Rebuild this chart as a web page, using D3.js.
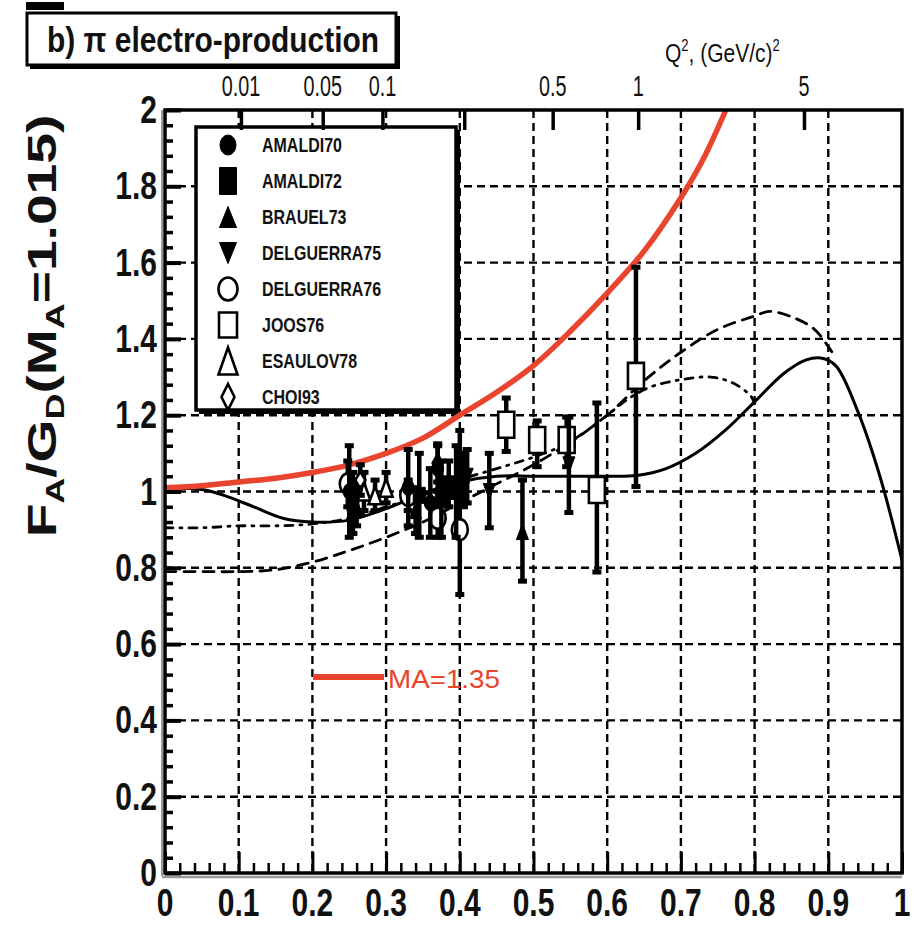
<!DOCTYPE html>
<html>
<head>
<meta charset="utf-8">
<script src="https://cdn.jsdelivr.net/npm/d3@7"></script>
<style>
  body { margin: 0; background: #fff; }
  svg { display: block; }
</style>
</head>
<body>
<svg id="chart" width="917" height="927"></svg>
<script>
// ---- Model curves: F_A / G_D ratio versus x ----
const solidX = [0, 0.05, 0.08, 0.12, 0.16, 0.2, 0.25, 0.3, 0.35, 0.4, 0.45, 0.5, 0.55, 0.6, 0.64, 0.68, 0.72, 0.76, 0.8, 0.84, 0.87, 0.89, 0.91, 0.94, 0.97, 1.0];
const solidY = [1.01, 1.005, 0.99, 0.96, 0.93, 0.92, 0.925, 0.955, 0.995, 1.025, 1.04, 1.04, 1.04, 1.04, 1.042, 1.06, 1.1, 1.16, 1.235, 1.31, 1.345, 1.35, 1.33, 1.21, 1.04, 0.82];

const dashX = [0, 0.05, 0.1, 0.15, 0.2, 0.25, 0.3, 0.35, 0.4, 0.45, 0.5, 0.55, 0.6, 0.65, 0.7, 0.75, 0.8, 0.82, 0.85, 0.88, 0.9, 0.91];
const dashY = [0.79, 0.79, 0.79, 0.795, 0.815, 0.845, 0.88, 0.92, 0.97, 1.02, 1.07, 1.13, 1.2, 1.29, 1.365, 1.425, 1.46, 1.472, 1.458, 1.427, 1.38, 1.35];

const dotX = [0, 0.05, 0.1, 0.15, 0.2, 0.25, 0.3, 0.35, 0.4, 0.45, 0.5, 0.55, 0.6, 0.63, 0.66, 0.7, 0.74, 0.77, 0.795, 0.8];
const dotY = [0.905, 0.905, 0.91, 0.91, 0.915, 0.93, 0.96, 0.99, 1.03, 1.06, 1.09, 1.13, 1.2, 1.245, 1.275, 1.293, 1.3, 1.285, 1.25, 1.23];

// M_A = 1.35 dipole ratio
const redX = [0, 0.05, 0.1, 0.15, 0.2, 0.25, 0.3, 0.35, 0.4, 0.45, 0.5, 0.55, 0.6, 0.65, 0.7, 0.73, 0.761];
const redY = [1.01, 1.015, 1.025, 1.035, 1.05, 1.07, 1.1, 1.14, 1.2, 1.26, 1.33, 1.42, 1.52, 1.63, 1.77, 1.87, 2.0];

// ---- Measurements: [x, value, error down, error up] ----
const amaldi70   = [[0.25, 1.0, 0.12, 0.12], [0.33, 1.01, 0.1, 0.1], [0.36, 0.97, 0.09, 0.09], [0.37, 1.06, 0.06, 0.06], [0.405, 1.03, 0.07, 0.07]];
const amaldi72   = [[0.255, 0.97, 0.08, 0.08], [0.345, 0.99, 0.11, 0.11], [0.375, 0.98, 0.1, 0.1], [0.385, 1.02, 0.06, 0.06], [0.395, 1.0, 0.12, 0.12]];
const brauel73   = [[0.26, 0.96, 0.05, 0.05], [0.34, 0.95, 0.06, 0.06], [0.485, 0.895, 0.13, 0.135]];
const delguerra75 = [[0.44, 1.0, 0.095, 0.1], [0.41, 1.04, 0.07, 0.07], [0.548, 1.07, 0.125, 0.125]];
const delguerra76 = [[0.248, 1.02, 0.06, 0.06], [0.33, 0.99, 0.04, 0.04], [0.37, 0.93, 0.05, 0.05], [0.40, 0.90, 0.17, 0.26]];
const joos76     = [[0.463, 1.175, 0.07, 0.07], [0.505, 1.135, 0.07, 0.05], [0.545, 1.135, 0.07, 0.06], [0.586, 1.004, 0.215, 0.228], [0.639, 1.303, 0.29, 0.285]];
const esaulov78  = [[0.27, 1.0, 0.05, 0.05], [0.285, 0.99, 0.04, 0.04], [0.30, 1.01, 0.04, 0.04]];
const choi93     = [[0.265, 1.03, 0.04, 0.04], [0.37, 1.075, 0.05, 0.05]];

const legendNames = ["AMALDI70", "AMALDI72", "BRAUEL73", "DELGUERRA75", "DELGUERRA76", "JOOS76", "ESAULOV78", "CHOI93"];
const legendShapes = ["circle", "square", "up", "down", "circle", "square", "up", "diamond"];
const legendFilled = [true, true, true, true, false, false, false, false];

// ---- Axis ticks ----
const xMajor = [0, 0.1, 0.2, 0.3, 0.4, 0.5, 0.6, 0.7, 0.8, 0.9, 1];
const xLabels = ["0", "0.1", "0.2", "0.3", "0.4", "0.5", "0.6", "0.7", "0.8", "0.9", "1"];
const yMajor = [0, 0.2, 0.4, 0.6, 0.8, 1, 1.2, 1.4, 1.6, 1.8, 2];
const yLabels = ["0", "0.2", "0.4", "0.6", "0.8", "1", "1.2", "1.4", "1.6", "1.8", "2"];
// Q^2 ticks (GeV/c)^2 and the x value each one sits at
const q2Ticks = [0.01, 0.05, 0.1, 0.2, 0.5, 1, 5];
const q2AtX   = [0.103, 0.214, 0.295, 0.406, 0.526, 0.642, 0.867];
const q2Labels = ["0.01", "0.05", "0.1", "", "0.5", "1", "5"];

const RED = "#e8442e";
const INK = "#111";

const svg = d3.select("#chart");
const L = 165, R = 902, T = 110, B = 873;
const x = d3.scaleLinear().domain([0, 1]).range([L, R]);
const y = d3.scaleLinear().domain([0, 2]).range([B, T]);
const q = d3.scaleLog().domain(q2Ticks).range(q2AtX.map(v => x(v)));

svg.append("defs").append("clipPath").attr("id", "plot")
  .append("rect").attr("x", L).attr("y", T).attr("width", R - L).attr("height", B - T);

// helper: text stretched vertically like the rest of the figure
function sText(g, px, py, str, o) {
  return g.append("text")
    .attr("transform", `translate(${px},${py}) scale(${o.sx || 1},${o.sy || 1})`)
    .attr("text-anchor", o.anchor || "start")
    .attr("font-family", "'Liberation Sans', Arial, sans-serif")
    .attr("font-weight", o.weight || "bold")
    .attr("font-size", o.size)
    .attr("fill", o.fill || INK)
    .text(str);
}

// ---- grid ----
const grid = svg.append("g").attr("stroke", "#000").attr("stroke-width", 2.4).attr("stroke-dasharray", "8,5");
grid.selectAll(".gx").data(xMajor.slice(1, -1)).join("line")
  .attr("x1", d => x(d)).attr("x2", d => x(d)).attr("y1", T).attr("y2", B);
grid.selectAll(".gy").data(yMajor.slice(1, -1)).join("line")
  .attr("x1", L).attr("x2", R).attr("y1", d => y(d)).attr("y2", d => y(d));

// ---- legend box ----
const legend = svg.append("g");
legend.append("rect").attr("x", 199).attr("y", 130).attr("width", 261).attr("height", 284).attr("fill", "#000");
legend.append("rect").attr("x", 196).attr("y", 127).attr("width", 260).attr("height", 283)
  .attr("fill", "#fff").attr("stroke", "#000").attr("stroke-width", 3.5);

// ---- curves ----
const curveG = svg.append("g").attr("clip-path", "url(#plot)").attr("fill", "none");
const lineGen = d3.line().curve(d3.curveCatmullRom.alpha(0.5));
function drawCurve(xs, ys, color, width, dash) {
  curveG.append("path")
    .attr("d", lineGen(xs.map((v, i) => [x(v), y(ys[i])])))
    .attr("stroke", color).attr("stroke-width", width)
    .attr("stroke-dasharray", dash || null)
    .attr("stroke-linecap", "round");
}
drawCurve(dashX, dashY, "#000", 2.8, "11,8");
drawCurve(dotX, dotY, "#000", 2.8, "8,7,2,7");
drawCurve(solidX, solidY, "#000", 3);
drawCurve(redX, redY, RED, 5.5);

// ---- markers ----
function shapePath(shape, w, h) {
  const a = w / 2, b = h / 2;
  switch (shape) {
    case "circle": return `M${-a},0A${a},${b} 0 1,0 ${a},0A${a},${b} 0 1,0 ${-a},0Z`;
    case "square": return `M${-a},${-b}H${a}V${b}H${-a}Z`;
    case "up": return `M0,${-b}L${a},${b}H${-a}Z`;
    case "down": return `M0,${b}L${a},${-b}H${-a}Z`;
    case "diamond": return `M0,${-b}L${a},0L0,${b}L${-a},0Z`;
  }
}
function markerSize(shape, filled) {
  if (shape === "square" && !filled) return [16, 26];
  if (shape === "circle" && !filled) return [16, 21];
  if (shape === "up" && !filled) return [13, 18];
  if (shape === "diamond") return [10, 17];
  return [12, 16];
}

const sets = [amaldi70, amaldi72, brauel73, delguerra75, delguerra76, joos76, esaulov78, choi93];
// open symbols first so the filled ones sit on top in the crowded region
const drawOrder = [6, 7, 4, 5, 0, 1, 2, 3];
const dataG = svg.append("g").attr("clip-path", "url(#plot)");
drawOrder.forEach(si => {
  const pts = sets[si];
  const g = dataG.append("g");
  const shape = legendShapes[si], filled = legendFilled[si];
  const [w, h] = markerSize(shape, filled);
  pts.forEach(p => {
    const cx = x(p[0]), lo = y(p[1] - p[2]), hi = y(p[1] + p[3]);
    g.append("line").attr("x1", cx).attr("x2", cx).attr("y1", lo).attr("y2", hi)
      .attr("stroke", "#000").attr("stroke-width", 4.5);
    [lo, hi].forEach(cy => g.append("rect").attr("x", cx - 4.5).attr("y", cy - 2.5)
      .attr("width", 9).attr("height", 5).attr("fill", "#000"));
    g.append("path").attr("transform", `translate(${cx},${y(p[1])})`)
      .attr("d", shapePath(shape, w, h))
      .attr("fill", filled ? "#000" : "#fff")
      .attr("stroke", "#000").attr("stroke-width", filled ? 1 : 2.6);
  });
});

// ---- legend entries ----
legendNames.forEach((name, i) => {
  const cy = 145 + i * 36;
  const shape = legendShapes[i], filled = legendFilled[i];
  const size = {circle: filled ? [16, 20] : [19, 23], square: filled ? [17, 27] : [18, 25],
                up: filled ? [17, 21] : [19, 27], down: [17, 21], diamond: [13, 26]}[shape];
  legend.append("path").attr("transform", `translate(228,${cy})`)
    .attr("d", shapePath(shape, size[0], size[1]))
    .attr("fill", filled ? "#000" : "#fff").attr("stroke", "#000").attr("stroke-width", filled ? 1 : 2.6);
  sText(legend, 262, cy + 7, name, {size: 16, sy: 1.3});
});

// ---- MA=1.35 label ----
svg.append("line").attr("x1", 313).attr("x2", 384).attr("y1", 677).attr("y2", 677)
  .attr("stroke", RED).attr("stroke-width", 6);
svg.append("text").attr("x", 388).attr("y", 688)
  .attr("font-family", "'Liberation Sans', Arial, sans-serif").attr("font-size", 26)
  .attr("fill", RED).attr("textLength", 112).attr("lengthAdjust", "spacingAndGlyphs")
  .text("MA=1.35");

// ---- frame and axes ----
const frame = svg.append("g");
frame.append("line").attr("x1", L - 3).attr("x2", L - 3).attr("y1", T).attr("y2", B + 3).attr("stroke", "#999").attr("stroke-width", 2);
frame.append("line").attr("x1", L - 3).attr("x2", R).attr("y1", B + 4).attr("y2", B + 4).attr("stroke", "#999").attr("stroke-width", 2.5);
frame.append("rect").attr("x", L).attr("y", T).attr("width", R - L).attr("height", B - T)
  .attr("fill", "none").attr("stroke", "#000").attr("stroke-width", 3.5);

function styleAxis(g, w) {
  g.select(".domain").remove();
  g.selectAll("line").attr("stroke", "#000").attr("stroke-width", w);
  g.selectAll("text").remove();
}
const xMinor = d3.range(0, 50).map(i => i * 0.02).filter(v => Math.abs(v * 10 - Math.round(v * 10)) > 1e-6);
svg.append("g").attr("transform", `translate(0,${B})`)
  .call(d3.axisBottom(x).tickValues(xMinor).tickSize(-10)).call(g => styleAxis(g, 2.5));
svg.append("g").attr("transform", `translate(0,${B})`)
  .call(d3.axisBottom(x).tickValues(xMajor).tickSize(-21)).call(g => styleAxis(g, 3));

const yMinor = d3.range(0, 50).map(i => i * 0.04).filter(v => Math.abs(v * 5 - Math.round(v * 5)) > 1e-6);
svg.append("g").attr("transform", `translate(${L},0)`)
  .call(d3.axisLeft(y).tickValues(yMinor).tickSize(-8)).call(g => styleAxis(g, 3.5));
svg.append("g").attr("transform", `translate(${L},0)`)
  .call(d3.axisLeft(y).tickValues(yMajor).tickSize(-16)).call(g => styleAxis(g, 4));

svg.append("g").attr("transform", `translate(0,${T})`)
  .call(d3.axisTop(q).tickValues(q2Ticks).tickSize(-20)).call(g => styleAxis(g, 3.5));

// tick labels
xMajor.forEach((v, i) => sText(svg, x(v), 916, xLabels[i], {size: 30, sy: 1.3, anchor: "middle"}));
yMajor.forEach((v, i) => sText(svg, 157, y(v) + 13, yLabels[i], {size: 30, sy: 1.3, anchor: "end"}));
q2Ticks.forEach((v, i) => {
  if (q2Labels[i]) sText(svg, q(v), 96, q2Labels[i], {size: 22, sy: 1.35, sx: 0.9, anchor: "middle", weight: "normal"});
});

// Q^2 axis title
const qt = svg.append("text").attr("transform", "translate(665,62) scale(1,1.25)")
  .attr("font-family", "'Liberation Sans', Arial, sans-serif").attr("font-size", 21).attr("fill", INK);
qt.append("tspan").text("Q");
qt.append("tspan").attr("font-size", 13).attr("dy", -9).text("2");
qt.append("tspan").attr("dy", 9).text(", (GeV/c)");
qt.append("tspan").attr("font-size", 13).attr("dy", -9).text("2");

// y axis title
const yt = svg.append("text").attr("transform", "translate(56,326) rotate(-90) scale(1.38,1)")
  .attr("text-anchor", "middle").attr("font-family", "'Liberation Sans', Arial, sans-serif")
  .attr("font-weight", "bold").attr("font-size", 40).attr("fill", INK);
yt.append("tspan").text("F");
yt.append("tspan").attr("font-size", 26).attr("dy", 8).text("A");
yt.append("tspan").attr("dy", -8).text("/G");
yt.append("tspan").attr("font-size", 26).attr("dy", 8).text("D");
yt.append("tspan").attr("dy", -8).text("(M");
yt.append("tspan").attr("font-size", 26).attr("dy", 8).text("A");
yt.append("tspan").attr("dy", -8).text("=1.015)");

// ---- panel title ----
const title = svg.append("g");
title.append("rect").attr("x", 26).attr("y", 2).attr("width", 38).attr("height", 8).attr("fill", "#000");
title.append("rect").attr("x", 30).attr("y", 16).attr("width", 370).attr("height", 53).attr("fill", "#000");
title.append("rect").attr("x", 27).attr("y", 13).attr("width", 369).attr("height", 52)
  .attr("fill", "#fff").attr("stroke", "#000").attr("stroke-width", 3);
title.append("text").attr("transform", "translate(47,52) scale(1,1.2)")
  .attr("font-family", "'Liberation Sans', Arial, sans-serif").attr("font-weight", "bold")
  .attr("font-size", 29).attr("fill", INK)
  .attr("textLength", 332).attr("lengthAdjust", "spacingAndGlyphs")
  .text("b) π electro-production");
</script>
</body>
</html>
